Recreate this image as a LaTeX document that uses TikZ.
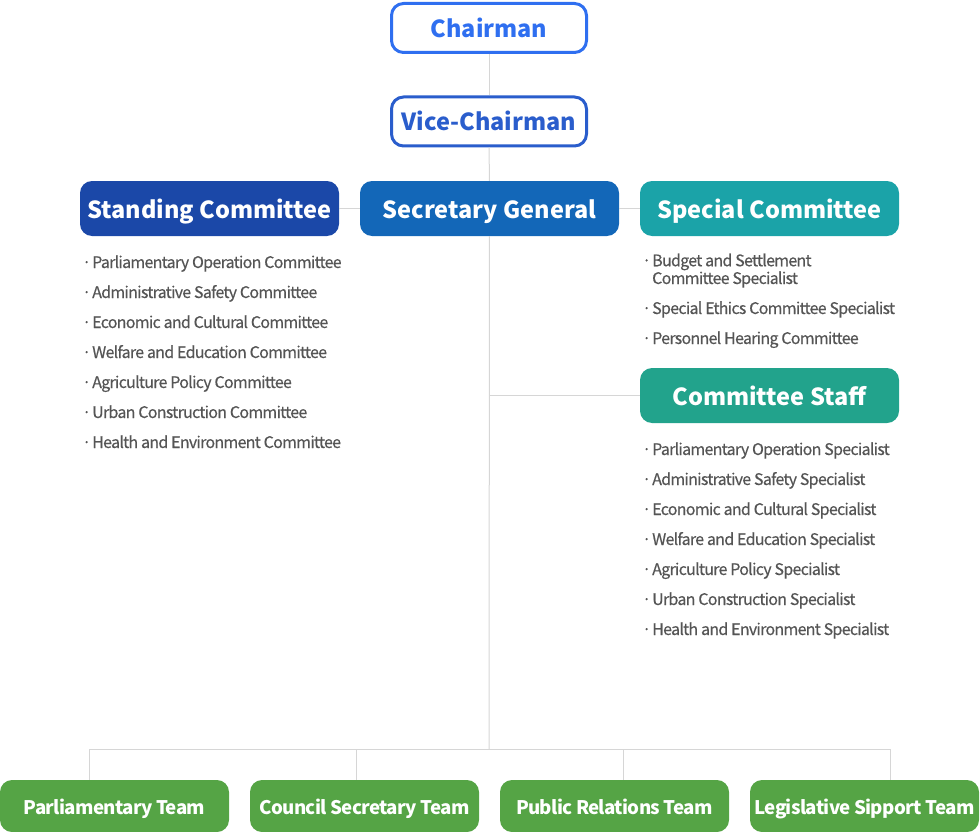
\documentclass[tikz,border=0pt]{standalone}
\usepackage{fontspec}
\setmainfont{Noto Sans CJK KR}
\usetikzlibrary{positioning, calc}
\definecolor{ChairBlue}{RGB}{47, 111, 240}
\definecolor{ViceBlue}{RGB}{42, 93, 204}
\definecolor{StandBlue}{RGB}{27, 72, 168}
\definecolor{SecBlue}{RGB}{19, 103, 184}
\definecolor{SpecTeal}{RGB}{27, 163, 168}
\definecolor{StaffTeal}{RGB}{34, 163, 140}
\definecolor{TeamGreen}{RGB}{85, 164, 69}
\definecolor{LineGray}{RGB}{214, 214, 214}
\definecolor{ItemText}{RGB}{85, 85, 85}

\begin{document}
\begin{tikzpicture}[x=1pt, y=-1pt,
    topbox/.style={draw=#1, line width=3pt, fill=white, text=#1, rounded corners=12pt,
      minimum width=195pt, minimum height=49pt, text height=18.5pt, text depth=0pt,
      font=\fontsize{23.5}{26}\selectfont\bfseries},
    headbox/.style={fill=#1, text=white, rounded corners=12pt,
      minimum width=259pt, minimum height=55pt, text height=19pt, text depth=0pt,
      font=\fontsize{23.5}{26}\selectfont\bfseries},
    teambox/.style={fill=TeamGreen, text=white, rounded corners=12pt,
      minimum width=229pt, minimum height=52pt, text height=17.5pt, text depth=0pt,
      font=\fontsize{18.7}{21}\selectfont\bfseries\addfontfeatures{LetterSpace=-3.5}},
    item/.style={anchor=base west, inner sep=0pt, text=ItemText, align=left,
      font=\fontsize{16}{16}\selectfont\addfontfeatures{LetterSpace=-4.5,FakeBold=0.4}},
    link/.style={draw=LineGray, line width=1pt}]
      \useasboundingbox (0,0) rectangle (980,832);

      % Top
      \node[topbox=ChairBlue] (chair) at (489, 28) {Chairman};
      \node[topbox=ViceBlue] (vice) at (489, 121.5) {Vice-Chairman};

      % Second row
      \node[headbox=SecBlue] (sec) at (489.5, 208.5) {Secretary General};
      \node[headbox=StandBlue] (stand) at (209.5, 208.5) {Standing Committee};
      \node[headbox=SpecTeal] (spec) at (769.5, 208.5) {Special Committee};
      \node[headbox=StaffTeal] (staff) at (769.5, 395.5) {Committee Staff};

      % Teams
      \node[teambox] (parl) at (114.5, 806) {Parliamentary Team};
      \node[teambox] (council) at (364.5, 806) {Council Secretary Team};
      \node[teambox] (pr) at (614.5, 806) {Public Relations Team};
      \node[teambox] (legis) at (864.5, 806) {Legislative Sipport Team};

      % Bus coordinates
      \coordinate (hub) at (489, 749);
      \coordinate (dropA) at (89, 749);
      \coordinate (dropB) at (356, 749);
      \coordinate (dropC) at (623, 749);
      \coordinate (dropD) at (890, 749);

      % Connectors
      \draw[link] (chair) -- (vice);
      \draw[link] (vice) -- (sec);
      \draw[link] (sec) -- (hub);
      \draw[link] (stand) -- (sec);
      \draw[link] (sec) -- (spec);
      \draw[link] (staff.west) -- (staff.west -| hub);
      \draw[link] (dropA) -- (dropD);
      \draw[link] (dropA) -- (dropA |- parl.north);
      \draw[link] (dropB) -- (dropB |- council.north);
      \draw[link] (dropC) -- (dropC |- pr.north);
      \draw[link] (dropD) -- (dropD |- legis.north);

      % Standing committee list
      \foreach \txt [count=\i] in {Parliamentary Operation Committee, Administrative Safety Committee,
          Economic and Cultural Committee, Welfare and Education Committee,
          Agriculture Policy Committee, Urban Construction Committee, Health and Environment Committee}
        \node[item] (standitem\i) at (82, 238+30*\i) {\makebox[10pt][l]{·}\txt};

      % Special committee list
      \node[item] (specitem1) at (642, 284) {\makebox[10pt][l]{·}Budget and Settlement\\\hspace*{10pt}Committee Specialist};
      \node[item] (specitem2) at (642, 314) {\makebox[10pt][l]{·}Special Ethics Committee Specialist};
      \node[item] (specitem3) at (642, 344) {\makebox[10pt][l]{·}Personnel Hearing Committee};

      % Committee staff list
      \foreach \txt [count=\i] in {Parliamentary Operation Specialist, Administrative Safety Specialist,
          Economic and Cultural Specialist, Welfare and Education Specialist,
          Agriculture Policy Specialist, Urban Construction Specialist, Health and Environment Specialist}
        \node[item] (staffitem\i) at (642, 425+30*\i) {\makebox[10pt][l]{·}\txt};
    \end{tikzpicture}
\end{document}
